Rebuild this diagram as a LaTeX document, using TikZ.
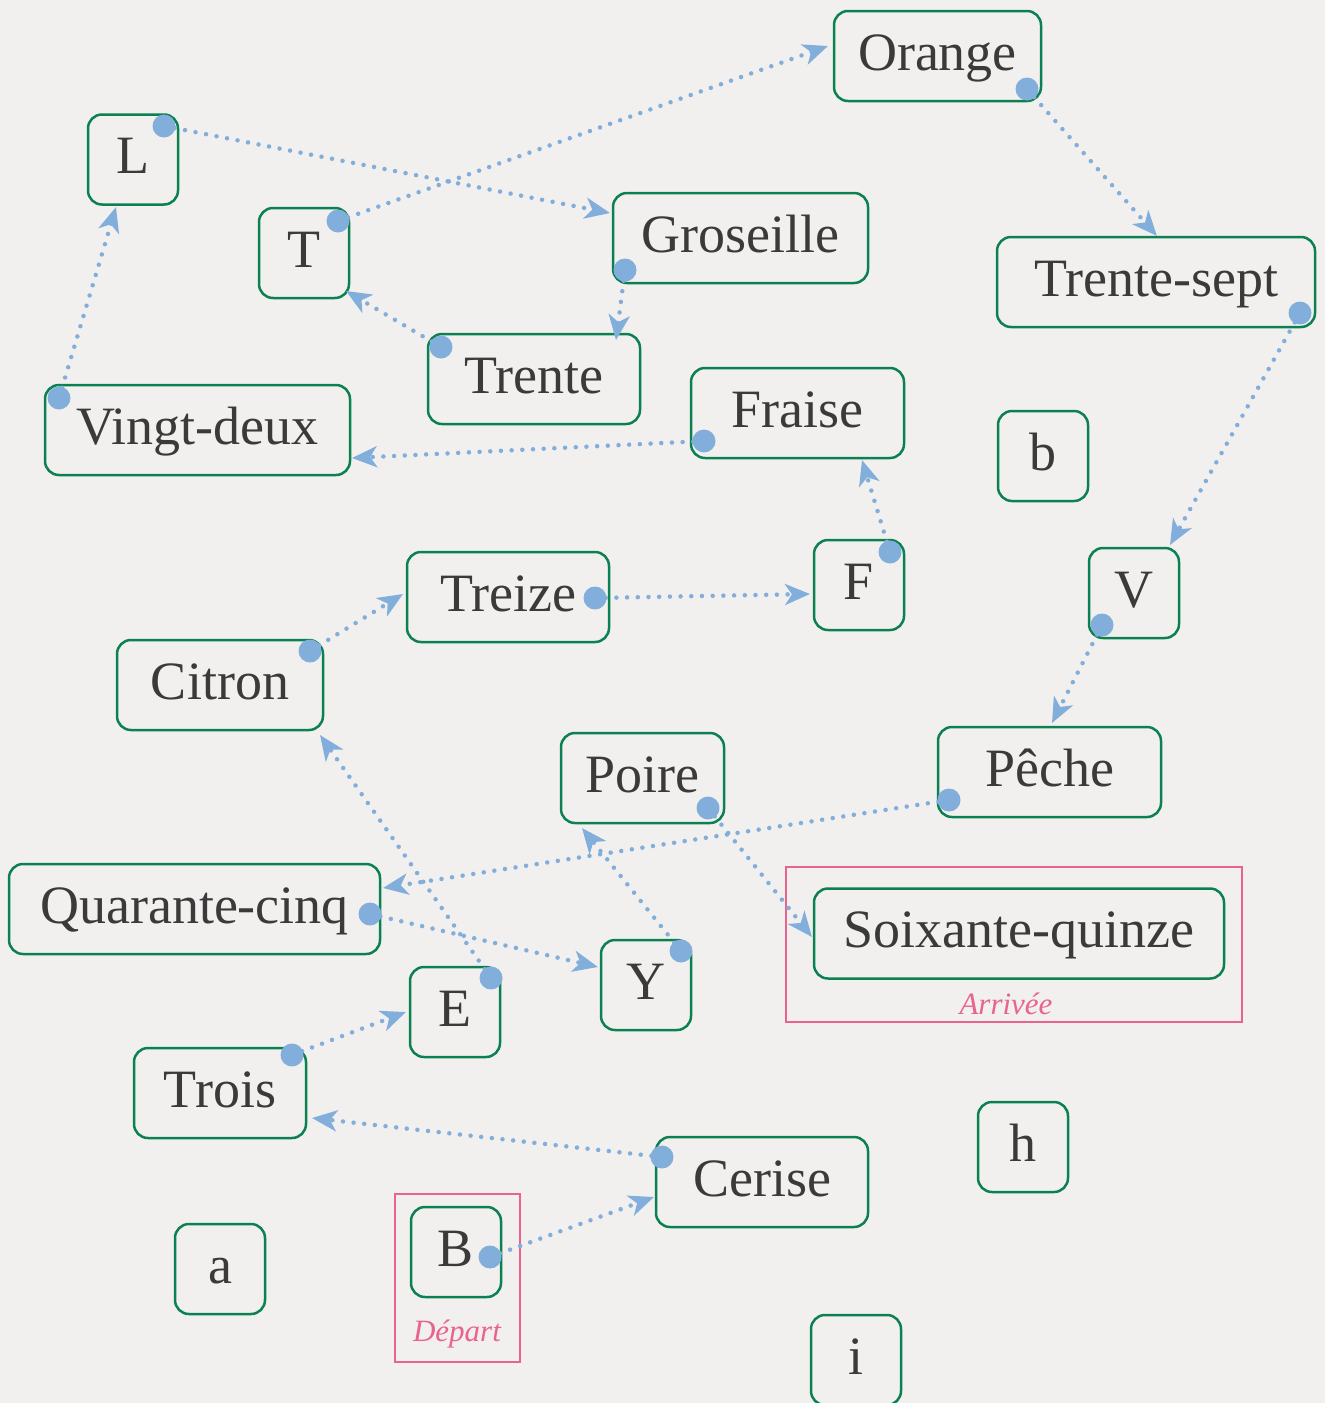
\documentclass[tikz,border=0pt]{standalone}
\usepackage{fontspec}
\setmainfont{Liberation Serif}
\usetikzlibrary{arrows.meta,calc}
\definecolor{bgc}{HTML}{F2F0EE}
\definecolor{boxc}{HTML}{0B8050}
\definecolor{linkc}{HTML}{82AEDB}
\definecolor{txtc}{HTML}{3A3A3A}
\definecolor{pinkc}{HTML}{E8638F}
\tikzset{
  box/.style={draw=boxc, line width=2.5pt, rounded corners=14pt, minimum height=90pt,
    minimum width=90pt, inner sep=0pt, text=txtc, text height=40pt, text depth=12pt,
    font=\fontsize{54}{60}\selectfont},
  conn/.style={draw=linkc, line width=4.5pt, line cap=round, dash pattern=on 0pt off 10.7pt,
    -{Stealth[length=25pt,width=21pt,inset=7pt]}},
  srcdot/.style={fill=linkc},
  frame/.style={draw=pinkc, line width=2.5pt},
  framelabel/.style={text=pinkc, font=\fontsize{31}{36}\selectfont\itshape, inner sep=0pt}
}
\begin{document}
\begin{tikzpicture}[x=1pt,y=-1pt]
\fill[bgc] (0,0) rectangle (1325,1403);
\useasboundingbox (0,0) rectangle (1325,1403);
% frames
\draw[frame] (786,867) rectangle (1242,1022);
\draw[frame] (395,1194) rectangle (520,1362);
\node[framelabel] (arr) at (1006,1004) {Arrivée};
\node[framelabel] (dep) at (457,1334) {Départ};
% nodes
\node[box, minimum width=207pt] (Orange) at (937.5,56) {Orange};
\node[box] (L) at (133,159.5) {L};
\node[box] (T) at (304,253) {T};
\node[box, minimum width=255pt] (Groseille) at (740.5,238) {Groseille};
\node[box, minimum width=318pt] (Trentesept) at (1156,282) {Trente-sept};
\node[box, minimum width=212pt] (Trente) at (534,379) {Trente};
\node[box, minimum width=305pt] (Vingtdeux) at (197.5,430) {Vingt-deux};
\node[box, minimum width=213pt] (Fraise) at (797.5,413) {Fraise};
\node[box] (b) at (1043,456) {b};
\node[box, minimum width=202pt] (Treize) at (508,597) {Treize};
\node[box] (F) at (859,585) {F};
\node[box] (V) at (1134,593) {V};
\node[box, minimum width=206pt] (Citron) at (220,685) {Citron};
\node[box, minimum width=163pt] (Poire) at (642.5,778) {Poire};
\node[box, minimum width=223pt] (Peche) at (1049.5,772) {Pêche};
\node[box, minimum width=371pt] (Quarante) at (194.5,909) {Quarante-cinq};
\node[box, minimum width=410pt] (Soix) at (1019,933.5) {Soixante-quinze};
\node[box] (Y) at (646,985) {Y};
\node[box] (E) at (455,1012) {E};
\node[box, minimum width=172pt] (Trois) at (220,1093) {Trois};
\node[box] (h) at (1023,1147) {h};
\node[box, minimum width=212pt] (Cerise) at (762,1182) {Cerise};
\node[box] (a) at (220,1269) {a};
\node[box] (B) at (456,1252) {B};
\node[box] (i) at (856,1360) {i};
% connectors
\foreach \s/\sx/\sy/\t/\tx/\ty in {
  L/31/-33.5/Groseille/-130.5/-25,
  T/34/-32/Orange/-109.5/-10,
  Orange/89.5/33/Trentesept/1/-46,
  Trentesept/144/31/V/36/-48,
  Groseille/-115.5/32/Trente/82/-39,
  Trente/-93/-32/T/42/38,
  Vingtdeux/-138.5/-32/L/-17/47.5,
  Fraise/-93.5/28/Vingtdeux/154.5/28,
  F/31/-33/Fraise/64.5/47,
  Treize/87/1/F/-49/9,
  Citron/90/-34/Treize/-105/-3,
  V/-32/32/Peche/2.5/-49,
  Peche/-100.5/28/Quarante/188.5/-21,
  Poire/65.5/30/Soix/-207/3.5,
  Quarante/175.5/5/Y/-48/-18,
  Y/35/-34/Poire/-60.5/50,
  E/36/-34/Citron/100/50,
  Trois/72/-38/E/-49/0,
  Cerise/-100/-25/Trois/92/25,
  B/34/5/Cerise/-108/15}{
  \draw[conn] ($(\s)+(\sx,\sy)$) -- ($(\t)+(\tx,\ty)$);
  \fill[srcdot] ($(\s)+(\sx,\sy)$) circle (11.5);
}
\end{tikzpicture}
\end{document}
